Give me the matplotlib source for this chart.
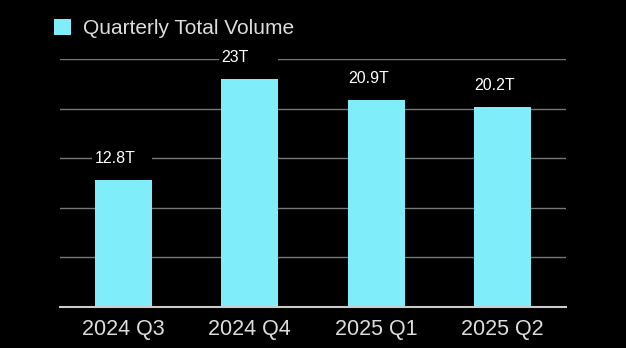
import matplotlib.pyplot as plt
import numpy as np
from matplotlib.patches import Patch, Rectangle

quarters = ["2024 Q3", "2024 Q4", "2025 Q1", "2025 Q2"]
volume = [12.8, 23.0, 20.9, 20.2]  # trillions
value_labels = ["12.8T", "23T", "20.9T", "20.2T"]

bar_color = "#80eefa"
text_color = "#dddddd"

plt.rcParams["font.family"] = ["Liberation Sans", "DejaVu Sans"]

fig = plt.figure(figsize=(6.26, 3.48), dpi=100, facecolor="black")
ax = fig.add_axes([0.096, 0.118, 0.808, 0.712], facecolor="black")

x = np.arange(len(quarters))
bars = ax.bar(x, volume, width=0.45, color=bar_color, zorder=2,
              label="Quarterly Total Volume")

ax.set_xlim(-0.5, len(quarters) - 0.5)
ax.set_ylim(0, 25)
ax.set_yticks([5, 10, 15, 20, 25])
ax.yaxis.grid(True, color="#777777", linewidth=1, zorder=0)
ax.set_axisbelow(True)
ax.tick_params(axis="y", left=False, labelleft=False)
ax.set_xticks(x)
ax.set_xticklabels(quarters, color=text_color, fontsize=15.5)
ax.tick_params(axis="x", length=0, pad=8.5)

for s in ["top", "right", "left"]:
    ax.spines[s].set_visible(False)
ax.spines["bottom"].set_color("#cccccc")
ax.spines["bottom"].set_linewidth(1.5)

# value labels: left aligned on the bar, black box hides the gridline
for b, lab in zip(bars, value_labels):
    yc = b.get_height() + 2.15
    ax.add_patch(Rectangle((b.get_x() - 0.02, yc - 0.8), b.get_width() + 0.02, 1.6,
                           facecolor="black", edgecolor="none", zorder=1))
    ax.text(b.get_x(), yc, lab, color="white", fontsize=11.5,
            ha="left", va="center", zorder=3)

fig.legend(handles=[Patch(facecolor=bar_color, label="Quarterly Total Volume")],
           loc="upper left", bbox_to_anchor=(0.0863, 0.945), frameon=False,
           fontsize=15, labelcolor=text_color, handlelength=0.8, handleheight=0.8,
           handletextpad=0.6, borderpad=0, borderaxespad=0)

fig.savefig("out.png", dpi=100, facecolor="black")
